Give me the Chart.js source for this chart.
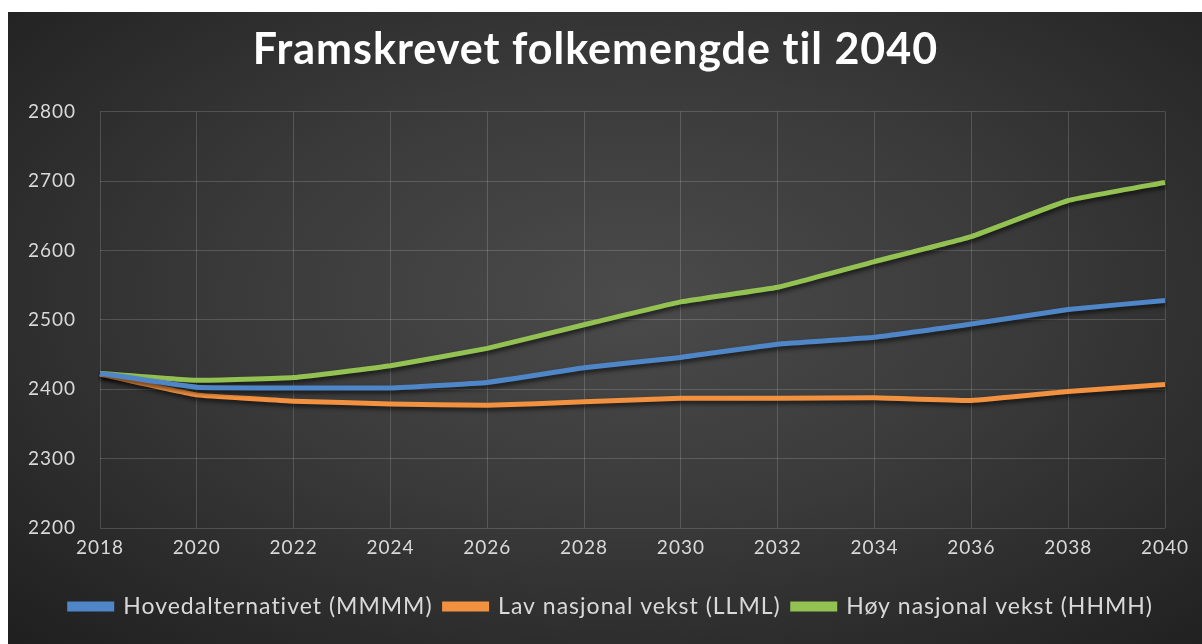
<!DOCTYPE html>
<html>
<head>
<meta charset="utf-8">
<script src="https://cdn.jsdelivr.net/npm/chart.js@4.4.0/dist/chart.umd.min.js"></script>
<style>
  html, body { margin: 0; padding: 0; background: #fff; }
  #wrap {
    position: absolute; left: 8px; top: 12px; width: 1194px; height: 632px;
    background: radial-gradient(ellipse at 52% 45%, #4b4b4b 0%, #3a3a3a 45%, #1f1f1f 100%);
  }
</style>
</head>
<body>
<div id="wrap"><canvas id="chart"></canvas></div>
<script>
const years = ["2018", "2020", "2022", "2024", "2026", "2028", "2030", "2032", "2034", "2036", "2038", "2040"];
const hoved = [2423, 2403, 2402, 2402, 2410, 2431, 2446, 2465, 2475, 2494, 2515, 2528];
const lav   = [2422, 2392, 2383, 2379, 2377, 2382, 2387, 2387, 2388, 2384, 2397, 2407];
const hoy   = [2423, 2413, 2417, 2434, 2459, 2493, 2526, 2547, 2584, 2620, 2672, 2698];

const textColor = "#d9d9d9";
const fontFamily = "Lato, 'Open Sans', sans-serif";

// soft shadow under the lines, wider letters like the original
const shadows = {
  id: "shadows",
  beforeDatasetsDraw(chart) {
    const ctx = chart.ctx;
    ctx.save();
    ctx.shadowColor = "rgba(0,0,0,0.6)";
    ctx.shadowBlur = 4;
    ctx.shadowOffsetX = 1;
    ctx.shadowOffsetY = 3;
  },
  afterDatasetsDraw(chart) {
    chart.ctx.restore();
  },
  beforeLayout(chart) {
    chart.ctx.letterSpacing = "1px";
  },
  beforeDraw(chart) {
    chart.ctx.letterSpacing = "1px";
  }
};

const ctx = document.getElementById("chart").getContext("2d");
new Chart(ctx, {
  type: "line",
  data: {
    labels: years,
    datasets: [
      { label: "Hovedalternativet (MMMM)", data: hoved, borderColor: "#4f86c8", backgroundColor: "#4f86c8" },
      { label: "Lav nasjonal vekst (LLML)", data: lav, borderColor: "#f2913f", backgroundColor: "#f2913f" },
      { label: "Høy nasjonal vekst (HHMH)", data: hoy, borderColor: "#93c152", backgroundColor: "#93c152" }
    ]
  },
  options: {
    responsive: true,
    maintainAspectRatio: false,
    animation: false,
    elements: {
      line: { borderWidth: 5, tension: 0.1 },
      point: { radius: 0 }
    },
    layout: { padding: { left: 18, right: 37, top: 10, bottom: 16 } },
    plugins: {
      title: {
        display: true,
        text: "Framskrevet folkemengde til 2040",
        color: "#ffffff",
        font: { family: fontFamily, size: 43, weight: "bold" },
        padding: { top: 2, bottom: 36 }
      },
      legend: {
        position: "bottom",
        align: "end",
        labels: {
          color: textColor,
          font: { family: fontFamily, size: 23 },
          boxWidth: 42,
          boxHeight: 5,
          padding: 12
        }
      },
      tooltip: { enabled: false }
    },
    scales: {
      x: {
        grid: { color: "rgba(255,255,255,0.16)", drawTicks: false },
        border: { display: false },
        ticks: { color: textColor, font: { family: fontFamily, size: 19 }, padding: 8, maxRotation: 0 },
        afterFit: scale => { scale.height += 16; }
      },
      y: {
        min: 2200,
        max: 2800,
        grid: { color: "rgba(255,255,255,0.16)", drawTicks: false },
        border: { display: false },
        ticks: {
          stepSize: 100, color: textColor, font: { family: fontFamily, size: 19 }, padding: 24,
          callback: v => String(v)
        },
        afterFit: scale => { scale.width = 74; }
      }
    }
  },
  plugins: [shadows]
});
</script>
</body>
</html>
